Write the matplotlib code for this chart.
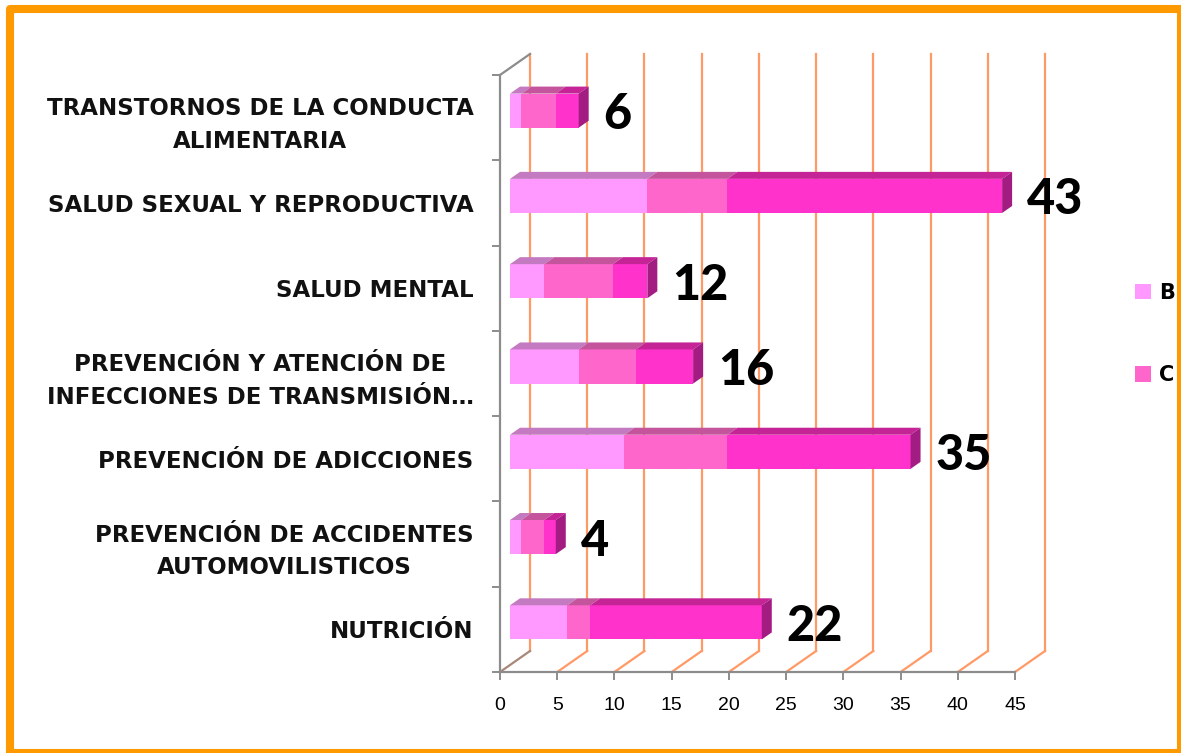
import matplotlib
matplotlib.use("Agg")
import matplotlib.pyplot as plt
from matplotlib.patches import Polygon, Rectangle
from matplotlib.lines import Line2D

# ---------------- data ----------------
categories = [
    "NUTRICIÓN",
    "PREVENCIÓN DE ACCIDENTES\nAUTOMOVILISTICOS",
    "PREVENCIÓN DE ADICCIONES",
    "PREVENCIÓN Y ATENCIÓN DE\nINFECCIONES DE TRANSMISIÓN…",
    "SALUD MENTAL",
    "SALUD SEXUAL Y REPRODUCTIVA",
    "TRANSTORNOS DE LA CONDUCTA\nALIMENTARIA",
]
series_b = [5, 1, 10, 6, 3, 12, 1]
series_c = [2, 2, 9, 5, 6, 7, 3]
series_d = [15, 1, 16, 5, 3, 24, 2]
totals = [22, 4, 35, 16, 12, 43, 6]
series_labels = ["B", "C"]
x_ticks = [0, 5, 10, 15, 20, 25, 30, 35, 40, 45]

# ---------------- styling ----------------
front_colors = ["#FF99FF", "#FF66CC", "#FF33CC"]
top_colors = ["#C47AC0", "#C4559C", "#C42496"]
side_color = "#A31C82"
grid_color = "#FF9966"
axis_gray = "#8C8C8C"

W, H, DPI = 1181, 753, 100
fig = plt.figure(figsize=(W / DPI, H / DPI), dpi=DPI)
fig.patch.set_facecolor("white")

# axes placed so that the front plane matches the reference
px_left, px_right = 500, 1015
px_top, px_bottom = 75, 672
ax = fig.add_axes([px_left / W, (H - px_bottom) / H,
                   (px_right - px_left) / W, (px_bottom - px_top) / H])
ax.set_xlim(0, 45)
ax.set_ylim(-0.5, len(categories) - 0.5)
ax.set_facecolor("none")

ux = (px_right - px_left) / 45.0            # px per x unit
uy = (px_bottom - px_top) / len(categories)  # px per y unit
DX = 30 / ux   # depth offset in x
DY = 21 / uy   # depth offset in y
ymin, ymax = -0.5, len(categories) - 0.5

# back wall gridlines and floor diagonals
for v in x_ticks:
    ax.add_line(Line2D([v + DX, v + DX], [ymin + DY, ymax + DY],
                       color=grid_color, lw=1.6, zorder=1, clip_on=False))
    ax.add_line(Line2D([v, v + DX], [ymin, ymin + DY],
                       color=("#A88878" if v == 0 else grid_color),
                       lw=1.6, zorder=1, clip_on=False))
# left wall top edge
ax.add_line(Line2D([0, DX], [ymax, ymax + DY], color=axis_gray, lw=1.6,
                   zorder=1, clip_on=False))

# spines / ticks
for s in ["top", "right"]:
    ax.spines[s].set_visible(False)
for s in ["left", "bottom"]:
    ax.spines[s].set_color(axis_gray)
    ax.spines[s].set_linewidth(1.6)
ax.set_xticks(x_ticks)
ax.set_xticklabels([str(t) for t in x_ticks], fontsize=14,
                   family="Liberation Sans", color="#000000")
ax.tick_params(axis="x", length=6, width=1.4, color=axis_gray, pad=12)
ax.set_yticks(range(len(categories)))
ax.set_yticklabels(categories, fontsize=16.5, fontweight="bold",
                   family="DejaVu Sans", color="#111111")
for lab in ax.get_yticklabels():
    lab.set_multialignment("center")
    lab.set_linespacing(1.55)
ax.tick_params(axis="y", length=0, pad=19)
ax.set_yticks([i - 0.5 for i in range(len(categories) + 1)], minor=True)
ax.tick_params(axis="y", which="minor", length=6, width=1.4, color=axis_gray)

# 3D-looking stacked bars
bar_h = 0.4
ddx, ddy = DX / 3, DY / 3
segments = [series_b, series_c, series_d]
for i in range(len(categories)):
    yc = i + DY / 3
    yb, yt = yc - bar_h / 2, yc + bar_h / 2
    left = DX / 3
    for k, seg in enumerate(segments):
        w = seg[i]
        ax.barh(yc, w, left=left, height=bar_h, color=front_colors[k],
                edgecolor="none", zorder=3, clip_on=False)
        ax.add_patch(Polygon([(left, yt), (left + w, yt),
                              (left + w + ddx, yt + ddy), (left + ddx, yt + ddy)],
                             closed=True, facecolor=top_colors[k],
                             edgecolor="none", zorder=3, clip_on=False))
        left += w
    ax.add_patch(Polygon([(left, yb), (left, yt), (left + ddx, yt + ddy),
                          (left + ddx, yb + ddy)], closed=True,
                         facecolor=side_color, edgecolor="none", zorder=3,
                         clip_on=False))
    ax.text(left + ddx + 15 / ux, yc, str(totals[i]), fontsize=35,
            fontweight="black", family="Lato", ha="left", va="center_baseline",
            color="black", zorder=4, clip_on=False)

# legend (right edge of the chart area, as in the reference)
handles = [Rectangle((0, 0), 1, 1, facecolor=front_colors[k], edgecolor="none")
           for k in range(len(series_labels))]
fig.legend(handles, series_labels, loc="upper left",
           bbox_to_anchor=(1116 / W, 1 - 264 / H), frameon=False,
           prop={"family": "DejaVu Sans", "weight": "bold", "size": 15},
           handlelength=0.8, handleheight=0.8, handletextpad=0.35,
           labelspacing=3.0)

# orange frame
fig.patches.append(Rectangle((10 / W, 0), 1 - 10 / W, 1 - 9 / H,
                             transform=fig.transFigure, fill=False,
                             edgecolor="#FF9900", linewidth=5.8,
                             joinstyle="round", zorder=10))

fig.savefig("out.png", dpi=DPI)
